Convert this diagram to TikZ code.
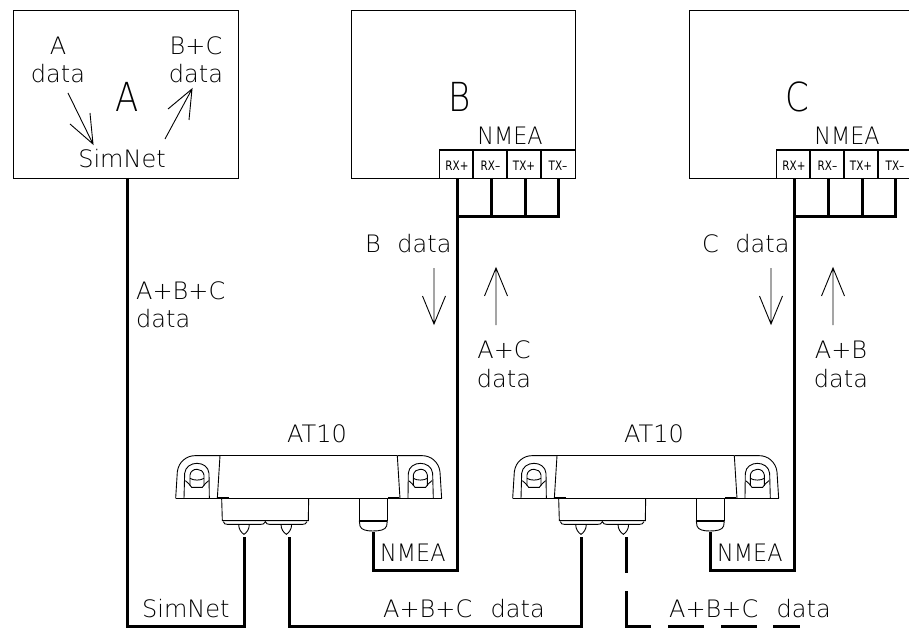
\documentclass[tikz,border=0pt]{standalone}
\usepackage{graphicx}
\usepackage{fontspec}
\setmainfont{DejaVu Sans ExtraLight}
\newfontfamily\termfont{DejaVu Sans}
\newcommand{\nmeatxt}{\scalebox{.93}[1]{NMEA}}
\newcommand{\termtxt}[1]{\scalebox{.8}[1]{#1}}
\newcommand{\bigtxt}[1]{\scalebox{.85}[1]{#1}}
\tikzset{
  box/.style={line width=1.1pt,draw=black},
  wire/.style={line width=3pt,line cap=butt,line join=miter},
  thin arrow/.style={line width=.9pt},
  lab/.style={anchor=base,inner sep=0pt,font=\fontsize{24}{24}\selectfont},
  lableft/.style={lab,anchor=base west},
  biglab/.style={anchor=base,inner sep=0pt,font=\fontsize{40}{40}\selectfont},
  term/.style={anchor=base,inner sep=0pt,font=\termfont\fontsize{13}{13}\selectfont},
  outline/.style={line width=.9pt},
  heavy/.style={line width=1.8pt},
  pics/at10/.style={code={
    \begin{scope}[x=.3333pt,y=-.3333pt]
      \draw[outline] (47,265) -- (845,265);
      \draw[outline] (180,137) -- (712,137);
      \draw[outline] (180,137) -- (172,265);
      \draw[outline] (712,137) -- (720,265);
      \foreach \sgn/\ofs in {1/0,-1/892}{
        \begin{scope}[xshift=\ofs*.3333pt,xscale=\sgn]
          \draw[outline] (47,265) -- (52,185) .. controls (56,155) and (80,137) .. (105,137) -- (180,137);
          \draw[outline] (72,265) -- (74,190) .. controls (78,150) and (144,150) .. (147,190) -- (148,265);
          \draw[outline] (90,228) -- (90,195) .. controls (93,172) and (128,172) .. (132,195) -- (132,228);
          \draw[outline] (76,212) .. controls (85,216) and (88,225) .. (95,232) -- (127,232) .. controls (134,225) and (137,216) .. (146,212);
          \draw[outline] (90,205) .. controls (100,212) and (122,212) .. (132,205);
        \end{scope}
      }
      \draw[heavy] (175,265) -- (207,265);
      \draw[heavy] (685,265) -- (716,265);
      \draw[outline] (185,265) -- (187,332) -- (445,332) -- (446,265);
      \draw[outline] (190,335) .. controls (192,342) and (196,343) .. (202,343) -- (303,343) .. controls (309,343) and (313,342) .. (316,335) .. controls (319,342) and (323,343) .. (329,343) -- (428,343) .. controls (434,343) and (438,342) .. (441,335);
      \draw[outline] (236,343) .. controls (236,358) and (244,368) .. (252,373) .. controls (260,368) and (268,358) .. (268,343);
      \draw[outline] (363,343) .. controls (363,358) and (371,368) .. (379,373) .. controls (387,368) and (395,358) .. (395,343);
      \draw[outline] (598,265) -- (598,332);
      \draw[outline] (682,265) -- (682,332);
      \draw[heavy] (598,332) -- (682,332);
      \draw[outline] (598,332) -- (600,348) .. controls (604,360) and (620,363) .. (638,363) .. controls (660,363) and (676,360) .. (680,348) -- (682,332);
    \end{scope}
  }},
}
\begin{document}
\begin{tikzpicture}[x=1pt,y=-1pt]
\useasboundingbox (0,0) rectangle (909,628);
% boxes
\node[box,minimum width=225pt,minimum height=168pt,anchor=north west,inner sep=0pt] (boxA) at (13,10) {};
\node[box,minimum width=224pt,minimum height=168pt,anchor=north west,inner sep=0pt] (boxB) at (351,10) {};
\node[box,minimum width=219.5pt,minimum height=168pt,anchor=north west,inner sep=0pt] (boxC) at (689,10) {};
% terminals
\foreach \n/\ox/\rgt in {b/0/575,c/337/908.5}{
  \draw[box] (439.5+\ox,178) -- (439.5+\ox,150) -- (\rgt,150);
  \draw[box] (473+\ox,150) -- (473+\ox,178);
  \draw[box] (507+\ox,150) -- (507+\ox,178);
  \draw[box] (541+\ox,150) -- (541+\ox,178);
  \node[term] (\n rxp) at (457+\ox,171) {\termtxt{RX+}};
  \node[term] (\n rxm) at (490.5+\ox,171) {\termtxt{RX–}};
  \node[term] (\n txp) at (524+\ox,171) {\termtxt{TX+}};
  \node[term] (\n txm) at (558+\ox,171) {\termtxt{TX–}};
  \coordinate (\n t1) at (457.7+\ox,178);
  \coordinate (\n t2) at (491+\ox,178);
  \coordinate (\n t3) at (525+\ox,178);
  \coordinate (\n t4) at (558.5+\ox,178);
  \node[lab] (\n nmea) at (510+\ox,145) {\nmeatxt};
}
% AT10 devices
\pic (d1) at (160,410) {at10};
\pic (d2) at (497,410) {at10};
\coordinate (aout) at (127,178);
\coordinate (p1a) at (244,537);
\coordinate (p1b) at (289,537);
\coordinate (p1n) at (373,532);
\coordinate (p2a) at (581,537);
\coordinate (p2b) at (626,537);
\coordinate (p2n) at (710,532);
\coordinate (c1) at (127,626);
\coordinate (c2) at (244,626);
\coordinate (c3) at (289,626);
\coordinate (c4) at (581,626);
\coordinate (b1) at (457.7,217);
\coordinate (b2) at (558.5,217);
\coordinate (b3) at (457.7,570);
\coordinate (b4) at (373,570);
\coordinate (e1) at (794.7,217);
\coordinate (e2) at (895.5,217);
\coordinate (e3) at (794.7,570);
\coordinate (e4) at (710,570);
% wires
\draw[wire] (aout) -- (c1) -- (c2) -- (p1a);
\draw[wire] (p1b) -- (c3) -- (c4) -- (p2a);
\draw[wire] (p1n) -- (b4) -- (b3) -- (b1);
\draw[wire] (p2n) -- (e4) -- (e3) -- (e1);
\draw[wire] (b1) -- (b2) -- (bt4);
\draw[wire] (b1) -- (bt1);
\path (bt2) |- (b1) coordinate[pos=.5] (j2);
\path (bt3) |- (b1) coordinate[pos=.5] (j3);
\draw[wire] (bt2) -- (j2);
\draw[wire] (bt3) -- (j3);
\draw[wire] (e1) -- (e2) -- (ct4);
\draw[wire] (e1) -- (ct1);
\path (ct2) |- (e1) coordinate[pos=.5] (j4);
\path (ct3) |- (e1) coordinate[pos=.5] (j5);
\draw[wire] (ct2) -- (j4);
\draw[wire] (ct3) -- (j5);
% dashed continuation
\coordinate (f1) at (626,573);
\coordinate (f2) at (626,591);
\coordinate (f3) at (626,626);
\coordinate (f4) at (651,626);
\coordinate (g1) at (668,626);
\coordinate (g2) at (704,626);
\coordinate (g3) at (721,626);
\coordinate (g4) at (757,626);
\coordinate (g5) at (773,626);
\coordinate (g6) at (800,626);
\draw[wire] (p2b) -- (f1);
\draw[wire] (f2) -- (f3) -- (f4);
\draw[wire] (g1) -- (g2);
\draw[wire] (g3) -- (g4);
\draw[wire] (g5) -- (g6);
% labels in box A
\node[lab] (adA) at (58,55) {A};
\node[lab] (adD) at (58,83) {data};
\node[lab] (bcA) at (196,55) {B+C};
\node[lab] (bcD) at (196,83) {data};
\node[biglab] (bigA) at (127.5,112) {\bigtxt{A}};
\node[lab] (simA) at (122,168) {SimNet};
\coordinate (a1s) at (68,93);
\coordinate (a1t) at (93,144);
\coordinate (a1l) at (70,124);
\coordinate (a1r) at (90,113);
\coordinate (a2s) at (165,139);
\coordinate (a2t) at (192,89);
\coordinate (a2l) at (168,109);
\coordinate (a2r) at (189,120);
\draw[thin arrow] (a1s) -- (a1t) (a1l) -- (a1t) -- (a1r);
\draw[thin arrow] (a2s) -- (a2t) (a2l) -- (a2t) -- (a2r);
% big labels
\node[biglab] (bigB) at (460,112) {\bigtxt{B}};
\node[biglab] (bigC) at (797.5,112) {\bigtxt{C}};
% middle labels
\node[lableft] (abc1) at (136,299) {A+B+C};
\node[lableft] (abc2) at (136,327) {data};
\node[lableft] (bd) at (365,252) {B\hspace{.37em} data};
\node[lableft] (cd) at (702,252) {C\hspace{.37em} data};
\node[lab] (ac1) at (504,358) {A+C};
\node[lab] (ac2) at (504,387) {data};
\node[lab] (ab1) at (841,358) {A+B};
\node[lab] (ab2) at (841,387) {data};
% flow arrows
\foreach \x/\n in {434/p,771/q}{
  \coordinate (\n s) at (\x,268);
  \coordinate (\n t) at (\x,324);
  \coordinate (\n l) at (\x-11.5,296);
  \coordinate (\n r) at (\x+11.5,296);
  \draw[thin arrow] (\n s) -- (\n t) (\n l) -- (\n t) -- (\n r);
}
\foreach \x/\n in {496/u,833/v}{
  \coordinate (\n s) at (\x,325);
  \coordinate (\n t) at (\x,268);
  \coordinate (\n l) at (\x-11.5,296);
  \coordinate (\n r) at (\x+11.5,296);
  \draw[thin arrow] (\n s) -- (\n t) (\n l) -- (\n t) -- (\n r);
}
% AT10 labels
\node[lab] (at1) at (317,442) {AT10};
\node[lab] (at2) at (654,442) {AT10};
\node[lableft] (n1) at (380,561) {\nmeatxt};
\node[lableft] (n2) at (717,561) {\nmeatxt};
\node[lableft] (sb) at (142,617) {SimNet};
\node[lableft] (abcd1) at (383,617) {A+B+C\hspace{.45em} data};
\node[lableft] (abcd2) at (669,617) {A+B+C\hspace{.45em} data};
\end{tikzpicture}
\end{document}
